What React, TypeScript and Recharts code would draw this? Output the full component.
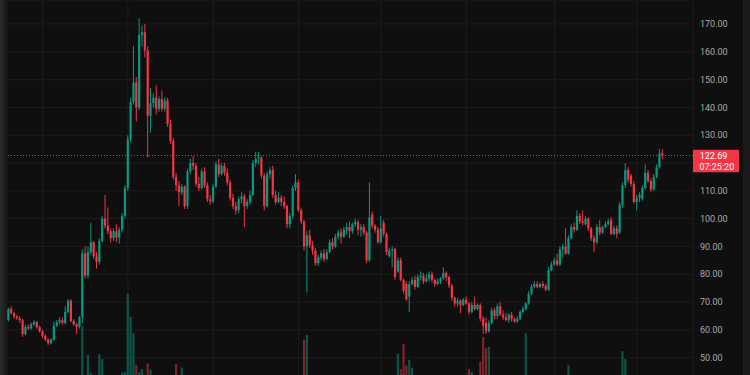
import React from 'react';
import { ComposedChart, Bar, XAxis, YAxis, CartesianGrid, ReferenceLine } from 'recharts';

const openPrices = [
  63.5, 67.5, 66, 64.8, 64.2, 63.5, 58.5, 61, 60.5, 62, 62.8, 61, 59.5, 57.8, 56.5, 55.2, 56.5, 61.5, 62.8, 63.5,
  62.5, 66.5, 70.5, 63.2, 62, 61.2, 64.5, 87.5, 79.5, 88, 91.5, 86.5, 84.5, 92, 100, 97.5, 95.5, 93, 95.5, 93.2,
  96, 101, 111, 128.5, 142, 149, 140, 166, 167, 160.5, 137, 141.5, 143.5, 139.5, 143, 139.5, 142.5, 134, 128, 115,
  112, 109.5, 111.5, 104.5, 117, 120, 119, 112.5, 111, 117, 112, 107, 106.2, 111.5, 119.5, 116, 119, 116.5, 113, 107.5,
  104.5, 103, 107, 108, 104.5, 106, 108.5, 120, 121.5, 122, 115.5, 104.5, 116, 117.5, 108.5, 106, 107.5, 106, 104.5, 98,
  101, 111, 113, 103, 99, 90, 94, 90.5, 88.5, 84, 86, 87.5, 85.5, 88, 91.5, 90, 93.5, 95, 93.5, 96,
  97, 95.5, 98, 98.8, 96, 97, 95, 85, 101.5, 97.5, 96, 91.5, 98.5, 94.5, 86.5, 88.5, 89, 81, 85, 78,
  76.5, 72, 76.5, 78, 75.5, 79, 79.5, 77.5, 78.5, 80, 78, 76.5, 77.5, 78.5, 80.5, 79, 76, 71.5, 69.5, 70.5,
  69, 70.8, 69.5, 66.5, 69, 67.5, 69, 64, 62.5, 59.5, 62.5, 67, 65, 68.5, 65.5, 64.5, 63.5, 65.5, 64, 63,
  64, 66.5, 67.5, 69.5, 73, 75.5, 76.5, 75.5, 76.5, 75.8, 74.5, 81.5, 83.5, 85, 83.5, 89, 90, 87.5, 93, 97,
  96, 101, 99, 98, 100, 96.5, 93, 91.5, 97, 95, 97, 98, 99.5, 94.5, 96.5, 95, 105, 112, 117.5, 115.5,
  112.5, 106, 107.5, 107, 111, 116.5, 113.5, 110.5, 115, 118.5, 123.5,
];

const highPrices = [
  68, 68.5, 66.5, 65.5, 65, 64, 61.8, 62, 62.7, 63.5, 63.2, 61.5, 60, 58.5, 57, 57, 63, 63.5, 64.5, 64.5,
  68.5, 71, 71, 63.8, 62.5, 65, 89, 90, 90, 98.4, 92, 88, 93, 101, 108.5, 104, 96.5, 96.5, 98, 97,
  102, 112, 130, 143.5, 162, 151, 172, 169.5, 170, 162, 147, 145, 148, 144, 146, 143.5, 143.5, 135.5, 129, 116.5,
  113.5, 112.5, 112, 118, 121.5, 122.5, 120, 115, 118, 118.5, 113, 108.5, 112.5, 120.5, 121.5, 120, 120, 118, 114, 109,
  106, 108, 109.5, 109, 107, 110, 121, 124, 124, 122.5, 116.5, 117, 118.5, 119, 110, 109.5, 108.5, 108, 105, 102,
  112, 116, 114, 104, 99.5, 95.5, 96, 92, 89.5, 87, 88.5, 89, 89, 92.5, 93, 94.5, 96, 96.5, 97, 98.5,
  99, 98.5, 100, 99.5, 98, 98, 95.5, 113, 102.5, 98, 97, 101, 99.5, 95, 89.5, 90, 89.5, 86, 86, 78.5,
  77.5, 77.5, 79, 79.5, 80, 81, 80.5, 80, 81, 81, 78.5, 78.5, 79, 82.5, 81, 79.5, 76.5, 72, 71.5, 71,
  71.5, 72, 70, 70, 72, 69.5, 69.5, 65, 64.5, 63.5, 68, 68, 69.5, 70, 67, 66, 66, 66.5, 64.5, 65,
  67, 68.5, 70, 74, 76.5, 77.5, 77.5, 77, 77.5, 76.5, 82.5, 84.5, 86, 87.5, 90, 91, 96.5, 94, 98, 98.5,
  103, 102, 103, 101, 100.5, 97, 94, 98, 99.5, 97.5, 99, 100, 100.5, 97.5, 97.5, 106, 113, 120, 118.5, 116,
  113.5, 108.5, 109.5, 112, 119.5, 117.5, 114.5, 116, 119.5, 125, 125,
];

const lowPrices = [
  63, 65.5, 64, 63.5, 62.5, 57.5, 58, 60, 60, 61.5, 60.5, 59, 57, 56, 54.5, 54.8, 56, 61, 62, 61.8,
  62, 66, 62.8, 61.5, 58.5, 60.5, 62.5, 78.5, 78.5, 87, 85.5, 82, 83.5, 91.5, 96.5, 94.5, 91.5, 92, 91.5, 91,
  95, 100, 110, 127.5, 141, 135, 139, 162, 158, 122, 131, 140, 137.5, 138.5, 138.5, 138.5, 133, 127, 114, 110,
  104.5, 108.5, 103.5, 103.5, 116, 117.5, 111.5, 110, 110.5, 111, 106, 105, 105.5, 111, 115, 115.5, 115.5, 112, 106.5, 103.5,
  101.5, 102, 105.5, 97, 103.5, 105, 108, 118.5, 119.5, 114.5, 103, 104, 114.5, 107.5, 105, 105.5, 104.5, 103.5, 96.5, 96.5,
  100, 110, 102.5, 98, 88.5, 73.5, 89.5, 87, 83, 83, 85, 84.5, 85, 87.5, 89, 89.5, 92.5, 91, 93, 94.5,
  93, 94.5, 97, 94, 93.5, 94, 84, 84.5, 96.5, 95, 91, 91, 93.5, 87, 86, 82.5, 78, 80.5, 77.5, 73,
  70.5, 66.5, 76, 74.5, 75, 78, 76.5, 77, 77.5, 77, 75.5, 76, 76.5, 78, 77.5, 75, 70.5, 68.5, 68.5, 66,
  68.5, 69, 65.5, 66, 67, 67, 63, 58.5, 58.5, 59, 62, 64, 64, 65, 63.5, 63, 62.5, 63, 62.5, 62.5,
  63.5, 66, 67, 69, 72.5, 75, 75, 75, 75, 74, 74, 81, 83, 83, 83, 86, 87, 87, 92.5, 95,
  95.5, 98, 97.5, 97.5, 95.5, 92, 88, 91, 94, 94.5, 96.5, 97.5, 94, 94, 93, 94.5, 104, 111, 113, 111.5,
  105.5, 103, 106, 106.5, 110.5, 113, 109.5, 110, 114.5, 118, 121.5,
];

const closePrices = [
  67.5, 66, 64.8, 64.2, 63.5, 58.5, 61, 60.5, 62, 62.8, 61, 59.5, 57.8, 56.5, 55.2, 56.5, 61.5, 62.8, 63.5, 62.5,
  66.5, 70.5, 63.2, 62, 61.2, 64.5, 87.5, 79.5, 88, 91.5, 86.5, 84.5, 92, 100, 97.5, 95.5, 93, 95.5, 93.2, 96,
  101, 111, 128.5, 142, 149, 140, 166, 167, 160.5, 137, 141.5, 143.5, 139.5, 143, 139.5, 142.5, 134, 128, 115, 112,
  109.5, 111.5, 104.5, 117, 120, 119, 112.5, 111, 117, 112, 107, 106.2, 111.5, 119.5, 116, 119, 116.5, 113, 107.5, 104.5,
  103, 107, 108, 104.5, 106, 108.5, 120, 121.5, 122, 115.5, 104.5, 116, 117.5, 108.5, 106, 107.5, 106, 104.5, 98, 101,
  111, 113, 103, 99, 90, 94, 90.5, 88.5, 84, 86, 87.5, 85.5, 88, 91.5, 90, 93.5, 95, 93.5, 96, 97,
  95.5, 98, 98.8, 96, 97, 95, 85, 100.5, 97.5, 96, 91.5, 96.5, 94.5, 88, 88.5, 89, 79, 85, 78, 74,
  71, 76.5, 78, 75.5, 79, 79.5, 77.5, 78.5, 80, 78, 76.5, 77.5, 78.5, 80.5, 79, 76, 71.5, 69.5, 70.5, 69,
  70.8, 69.5, 66.5, 69, 67.5, 69, 64, 61.5, 59.5, 62.5, 67, 65, 68.5, 65.5, 64.5, 63.5, 65.5, 64, 63, 64,
  66.5, 67.5, 69.5, 73, 75.5, 76.5, 75.5, 76.5, 75.8, 74.5, 81.5, 83.5, 85, 83.5, 89, 90, 87.5, 93, 97, 96,
  101, 99, 98.5, 100, 96.5, 93, 91.5, 97, 95, 97, 98, 99, 94.5, 96.5, 94.5, 105, 112, 117.5, 114, 112.5,
  106, 107.5, 108.5, 111, 116.5, 113.5, 110.5, 115, 118.5, 123.5, 122.69,
];

const volumes = [
  3.1, 2.4, 2.0, 1.8, 2.2, 3.5, 2.6, 1.9, 2.1, 1.7, 2.3, 2.5, 2.8, 2.2, 3.0, 2.1, 4.2, 2.6, 2.3, 2.0,
  4.8, 5.5, 5.1, 3.2, 3.6, 3.9, 14.5, 7.2, 10.5, 8.0, 6.1, 5.4, 10.6, 9.9, 7.0, 5.2, 4.6, 3.9, 4.1, 3.8,
  8.0, 8.1, 19.0, 15.8, 13.5, 9.1, 8.1, 8.5, 7.4, 9.3, 8.4, 5.8, 4.9, 4.2, 5.0, 4.1, 5.6, 6.2, 7.1, 9.2,
  7.3, 8.7, 6.0, 6.8, 5.2, 4.7, 5.9, 4.4, 5.1, 4.8, 5.5, 3.9, 4.6, 6.1, 4.5, 4.0, 3.8, 4.9, 5.6, 6.2,
  4.8, 4.1, 3.6, 5.0, 4.3, 6.6, 5.1, 4.7, 7.0, 5.8, 4.4, 4.0, 4.2, 3.7, 4.9, 3.9, 3.5, 4.2, 6.4, 4.8,
  5.7, 6.9, 5.5, 6.3, 12.6, 13.3, 7.1, 5.6, 6.0, 4.2, 3.8, 3.5, 3.9, 4.4, 3.6, 4.1, 3.7, 3.3, 3.9, 3.4,
  4.0, 3.6, 3.2, 3.5, 3.8, 4.6, 6.9, 7.5, 5.2, 4.1, 4.8, 5.0, 4.4, 5.9, 4.3, 4.7, 6.5, 10.6, 8.5, 12.0,
  9.0, 9.8, 8.7, 6.2, 5.1, 4.3, 4.0, 3.6, 4.2, 3.9, 3.4, 3.7, 3.5, 4.5, 3.8, 4.6, 6.0, 5.3, 4.4, 5.1,
  4.0, 4.7, 8.5, 8.1, 6.0, 5.2, 9.5, 13.0, 11.4, 11.6, 7.0, 5.5, 6.1, 5.0, 4.4, 4.1, 4.6, 3.9, 3.7, 4.2,
  5.3, 6.4, 13.5, 7.3, 6.2, 5.0, 4.1, 3.8, 3.6, 3.9, 7.2, 6.0, 5.4, 4.8, 6.6, 5.9, 6.8, 9.1, 6.9, 5.2,
  6.1, 5.4, 4.6, 4.3, 4.9, 5.1, 5.8, 5.5, 4.7, 4.2, 3.9, 4.1, 5.0, 4.4, 4.5, 7.0, 11.0, 9.9, 7.4, 6.3,
  6.8, 5.6, 4.6, 5.2, 6.9, 5.8, 5.1, 4.7, 5.3, 6.5, 3.2,
];

const monthTicks = [12, 42, 72, 102, 131, 161, 192, 221];
const priceTicks = [50, 60, 70, 80, 90, 100, 110, 120, 130, 140, 150, 160, 170];
const lastPrice = 122.69;
const countdown = '07:25:20';

const UP = '#089981';
const DOWN = '#f23645';
const BG = '#0f0f0f';
const GRID = '#1c1c1c';
const TEXT = '#a9a9a9';
const FONT = 'Roboto, "Liberation Sans", sans-serif';
const BODY_W = 2.2;

const data = openPrices.map((o, i) => ({
  i,
  open: o,
  high: highPrices[i],
  low: lowPrices[i],
  close: closePrices[i],
  range: [lowPrices[i], highPrices[i]],
  volume: volumes[i] ?? 0,
}));

const Candle = (props: any) => {
  const { x, y, width, height, payload } = props;
  if (x == null || y == null || !payload) return null;
  const { open, close, high, low } = payload;
  const top = Math.min(y, y + height);
  const bottom = Math.max(y, y + height);
  const span = high - low;
  const ppu = span > 0 ? (bottom - top) / span : 0;
  const yOpen = top + (high - open) * ppu;
  const yClose = top + (high - close) * ppu;
  const cx = x + width / 2;
  const color = close >= open ? UP : DOWN;
  const bodyTop = Math.min(yOpen, yClose);
  const bodyH = Math.max(Math.abs(yOpen - yClose), 1);
  return (
    <g>
      <line x1={cx} x2={cx} y1={top} y2={bottom} stroke={color} strokeWidth={1} />
      <rect x={cx - BODY_W / 2} y={bodyTop} width={BODY_W} height={bodyH} fill={color} />
    </g>
  );
};

const VolumeBar = (props: any) => {
  const { x, y, width, height, payload } = props;
  if (x == null || y == null || !payload) return null;
  const cx = x + width / 2;
  const color = payload.close >= payload.open ? UP : DOWN;
  const top = Math.min(y, y + height);
  return <rect x={cx - BODY_W / 2} y={top} width={BODY_W} height={Math.abs(height)} fill={color} fillOpacity={0.5} />;
};

// Axis labels that fall under the last-price tag are hidden, as in the reference.
const PriceTick = (props: any) => {
  const { x, y, payload } = props;
  if (!payload || Math.abs(payload.value - lastPrice) < 5) return null;
  return (
    <text x={x} y={y} dy="0.355em" textAnchor="start" fill={TEXT} fontSize={9} fontFamily={FONT}>
      {Number(payload.value).toFixed(2)}
    </text>
  );
};

const PriceTag = (props: any) => {
  const vb = props.viewBox || {};
  if (vb.x == null) return null;
  const left = vb.x + (vb.width || 0);
  const yy = vb.y;
  return (
    <g>
      <rect x={left} y={yy - 5.7} width={46} height={22.4} fill={DOWN} rx={1} />
      <text x={left + 6.7} y={yy + 0.3} dy="0.355em" fill="#ffffff" fontSize={9} fontFamily={FONT}>
        {lastPrice.toFixed(2)}
      </text>
      <text x={left + 6.5} y={yy + 10.8} dy="0.355em" fill="#ffffff" fontSize={9} fontFamily={FONT}>
        {countdown}
      </text>
    </g>
  );
};

export default function App() {
  return (
    <div style={{ position: 'absolute', top: 0, left: 0, width: 750, height: 375, overflow: 'hidden', background: BG }}>
      <ComposedChart width={750} height={430} data={data} margin={{ top: 0, right: 7, bottom: 0, left: 7 }}>
        <CartesianGrid stroke={GRID} />
        <XAxis dataKey="i" type="number" domain={[-0.528, 240.76]} ticks={monthTicks} allowDataOverflow hide />
        <XAxis xAxisId="v" dataKey="i" type="number" domain={[-0.528, 240.76]} allowDataOverflow hide />
        <YAxis yAxisId="v" domain={[0, 60]} hide />
        <Bar xAxisId="v" yAxisId="v" dataKey="volume" shape={<VolumeBar />} isAnimationActive={false} />
        <Bar dataKey="range" shape={<Candle />} isAnimationActive={false} />
        <YAxis
          orientation="right"
          width={50}
          domain={[24, 178.63]}
          allowDataOverflow
          ticks={priceTicks}
          interval={0}
          axisLine={false}
          tickLine={false}
          tickSize={0}
          tickMargin={7}
          tick={<PriceTick />}
        />
        <ReferenceLine y={lastPrice} stroke={DOWN} strokeDasharray="1 2" strokeWidth={1} label={<PriceTag />} />
      </ComposedChart>
      <div style={{ position: 'absolute', top: 0, left: 0, width: 7, height: 375, background: 'linear-gradient(to right, #2c2c2c, #181818)' }} />
      <div style={{ position: 'absolute', top: 0, left: 743, width: 7, height: 375, background: '#1b1b1b' }} />
    </div>
  );
}
